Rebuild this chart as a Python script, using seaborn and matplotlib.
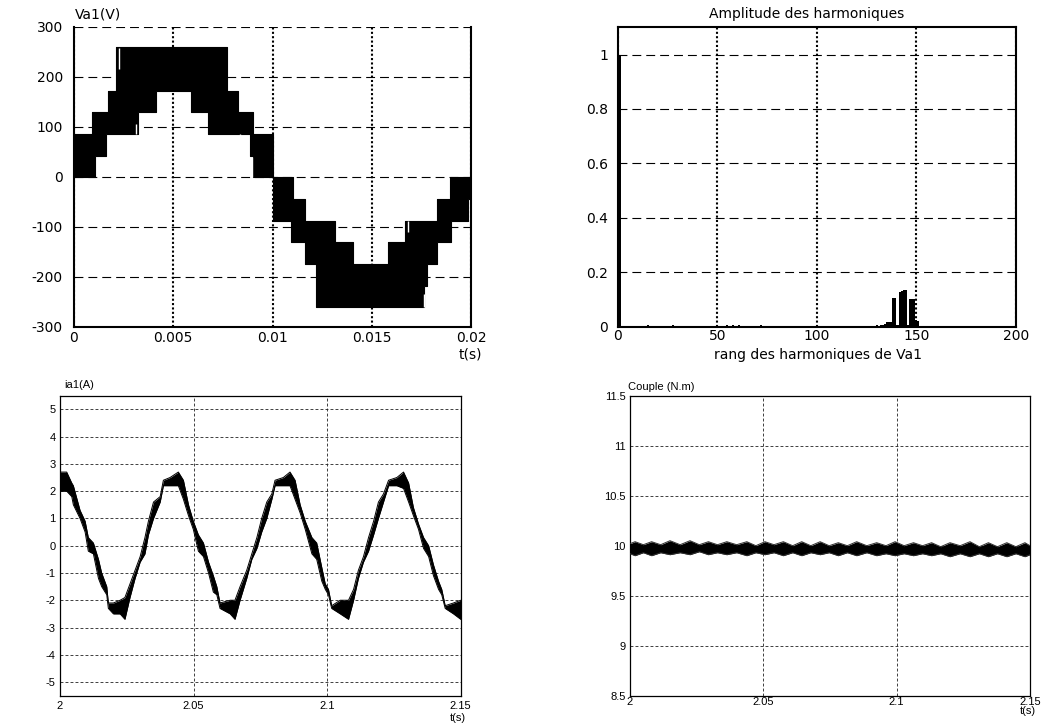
import numpy as np
import matplotlib
matplotlib.use("Agg")
import matplotlib.pyplot as plt
import seaborn as sns

# ---------------- data ----------------
# Va1 : multilevel PWM voltage, envelope of the switching band (step functions)
va_up_t = [0.0, 0.00089, 0.00173, 0.00212, 0.00773, 0.00828, 0.00903, 0.01000,
           0.01105, 0.01164, 0.01315, 0.01407, 0.01581, 0.01670, 0.01830, 0.01893]
va_up_v = [87, 130, 173, 260, 173, 130, 87, 0,
           -43, -87, -130, -173, -130, -87, -43, 0]
va_lo_t = [0.0, 0.00106, 0.00161, 0.00324, 0.00413, 0.00588, 0.00677, 0.00887,
           0.00900, 0.01000, 0.01093, 0.01166, 0.01220, 0.01765, 0.01780, 0.01827,
           0.01898, 0.01987]
va_lo_v = [0, 43, 87, 130, 173, 130, 87, 43,
           0, -87, -130, -173, -260, -217, -173, -130,
           -87, -43]
va_notch_t = [0.00225, 0.00311, 0.00836, 0.00896, 0.01681, 0.01765]
va_notch_lo = [217, 87, 44, 0, -109, -260]
va_notch_hi = [258, 107, 87, 40, -87, -234]

# harmonic spectrum of Va1
harm_rank = [1, 8, 15, 22, 28, 35, 41, 48, 55, 58, 61, 67, 72, 78, 83, 87, 92,
             105, 110, 115, 120, 125, 130, 132, 133, 134, 135, 136, 137, 138, 139,
             140, 141, 142, 143, 144, 145, 146, 147, 148, 149, 150, 151,
             155, 160, 165, 172, 180, 185, 190, 195]
harm_amp = [1.0, 0.003, 0.006, 0.003, 0.006, 0.003, 0.004, 0.003, 0.006, 0.005, 0.006,
            0.003, 0.006, 0.003, 0.004, 0.004, 0.003,
            0.003, 0.004, 0.004, 0.004, 0.003, 0.005, 0.008, 0.008, 0.009, 0.018,
            0.018, 0.018, 0.104, 0.106,
            0.008, 0.006, 0.128, 0.130, 0.134, 0.134, 0.006, 0.100, 0.102, 0.100,
            0.024, 0.020,
            0.004, 0.004, 0.003, 0.003, 0.004, 0.004, 0.003, 0.003]

# ia1 current : ripple band (lower / upper) read along time
ia_t = [2.0000, 2.0025, 2.0044, 2.0050, 2.0075, 2.0094, 2.0106, 2.0125, 2.0144, 2.0156,
        2.0175, 2.0181, 2.0200, 2.0225, 2.0243, 2.0262, 2.0281, 2.0300, 2.0318, 2.0331,
        2.0350, 2.0375, 2.0387, 2.0412, 2.0443, 2.0462, 2.0481, 2.0499, 2.0518, 2.0537,
        2.0556, 2.0574, 2.0587, 2.0599, 2.0637, 2.0655, 2.0674, 2.0699, 2.0718, 2.0737,
        2.0755, 2.0774, 2.0793, 2.0805, 2.0836, 2.0861, 2.0880, 2.0899, 2.0918, 2.0943,
        2.0961, 2.0980, 2.0993, 2.1005, 2.1017, 2.1049, 2.1080, 2.1099, 2.1117, 2.1136,
        2.1155, 2.1174, 2.1192, 2.1211, 2.1230, 2.1261, 2.1286, 2.1305, 2.1323, 2.1342,
        2.1361, 2.1380, 2.1398, 2.1417, 2.1429, 2.1442, 2.1473, 2.1500]
ia_lo = [2.0, 2.0, 1.8, 1.5, 1.0, 0.5, -0.2, -0.3, -1.2, -1.5,
         -1.8, -2.3, -2.5, -2.5, -2.7, -1.9, -1.2, -0.6, -0.3, 0.4,
         1.0, 1.6, 2.2, 2.2, 2.2, 1.7, 1.1, 0.6, -0.2, -0.4,
         -1.0, -1.7, -1.8, -2.3, -2.5, -2.7, -2.0, -1.2, -0.5, -0.1,
         0.5, 1.0, 1.7, 2.2, 2.2, 2.2, 1.7, 1.2, 0.6, -0.3,
         -0.5, -1.3, -1.6, -1.8, -2.3, -2.5, -2.7, -2.0, -1.2, -0.6,
         -0.2, 0.4, 1.0, 1.6, 2.2, 2.2, 2.1, 1.6, 1.1, 0.6,
         -0.1, -0.4, -1.1, -1.6, -1.8, -2.3, -2.5, -2.7]
ia_hi = [2.7, 2.7, 2.3, 2.2, 1.3, 0.9, 0.3, 0.1, -0.5, -1.0,
         -1.5, -2.1, -2.1, -2.0, -1.9, -1.4, -0.9, -0.4, 0.3, 0.9,
         1.6, 1.8, 2.4, 2.5, 2.7, 2.4, 1.5, 0.9, 0.4, 0.1,
         -0.6, -1.1, -1.5, -2.1, -2.0, -2.0, -1.5, -0.9, -0.3, 0.3,
         1.0, 1.6, 1.9, 2.4, 2.5, 2.7, 2.4, 1.5, 0.9, 0.3,
         0.1, -0.8, -1.4, -1.6, -2.2, -2.0, -2.0, -1.6, -0.9, -0.4,
         0.3, 0.9, 1.6, 1.9, 2.4, 2.5, 2.7, 2.3, 1.4, 0.8,
         0.3, 0.0, -0.7, -1.3, -1.6, -2.2, -2.1, -2.0]

# electromagnetic torque : ripple band
couple_t = [2.0000, 2.0019, 2.0050, 2.0081, 2.0115, 2.0150, 2.0188, 2.0225, 2.0260, 2.0294,
            2.0328, 2.0363, 2.0400, 2.0438, 2.0472, 2.0506, 2.0540, 2.0575, 2.0610, 2.0644,
            2.0678, 2.0713, 2.0747, 2.0781, 2.0815, 2.0850, 2.0888, 2.0925, 2.0960, 2.0994,
            2.1028, 2.1063, 2.1097, 2.1131, 2.1165, 2.1200, 2.1238, 2.1275, 2.1310, 2.1344,
            2.1378, 2.1413, 2.1447, 2.1481, 2.1500]
couple_hi = [10.02, 10.04, 10.01, 10.04, 10.01, 10.05, 10.01, 10.05, 10.01, 10.04,
             10.01, 10.04, 10.01, 10.04, 10.00, 10.04, 10.01, 10.04, 10.00, 10.04,
             10.00, 10.04, 10.00, 10.03, 10.00, 10.04, 10.00, 10.03, 10.00, 10.04,
             10.00, 10.03, 10.00, 10.03, 9.99, 10.03, 10.00, 10.04, 9.99, 10.03,
             9.99, 10.03, 9.99, 10.03, 10.00]
couple_lo = [9.92, 9.90, 9.93, 9.90, 9.93, 9.91, 9.93, 9.91, 9.94, 9.91,
             9.93, 9.91, 9.93, 9.90, 9.93, 9.91, 9.93, 9.90, 9.93, 9.90,
             9.93, 9.91, 9.93, 9.90, 9.93, 9.90, 9.93, 9.90, 9.92, 9.90,
             9.92, 9.90, 9.92, 9.90, 9.92, 9.89, 9.92, 9.89, 9.92, 9.89,
             9.92, 9.89, 9.92, 9.89, 9.91]

va_xticks = [0, 0.005, 0.01, 0.015, 0.02]
va_xticklabels = ["0", "0.005", "0.01", "0.015", "0.02"]
va_yticks = [-300, -200, -100, 0, 100, 200, 300]
harm_xticks = [0, 50, 100, 150, 200]
harm_yticks = [0, 0.2, 0.4, 0.6, 0.8, 1.0]
harm_yticklabels = ["0", "0.2", "0.4", "0.6", "0.8", "1"]
t_ticks = [2.0, 2.05, 2.1, 2.15]
t_ticklabels = ["2", "2.05", "2.1", "2.15"]
ia_yticks = [-5, -4, -3, -2, -1, 0, 1, 2, 3, 4, 5]
couple_yticks = [8.5, 9, 9.5, 10, 10.5, 11, 11.5]
couple_yticklabels = ["8.5", "9", "9.5", "10", "10.5", "11", "11.5"]

# ---------------- style ----------------
sns.set_theme(style="white")
plt.rcParams["font.family"] = ["DejaVu Sans"]
plt.rcParams["axes.unicode_minus"] = False

W, H = 1043, 726
fig = plt.figure(figsize=(W / 100, H / 100), dpi=100)
fig.patch.set_facecolor("white")


def rect(l, t, r, b):
    return [l / W, 1 - b / H, (r - l) / W, (b - t) / H]


def fx(x):
    return x / W


def fy(y):
    return 1 - y / H


BIG = dict(family=["DejaVu Sans"], size=10, color="black")
SMALL = dict(family=["Liberation Sans", "DejaVu Sans"], size=8, color="black")


def matlab_top(ax):
    ax.set_facecolor("white")
    for s in ax.spines.values():
        s.set_color("black")
        s.set_linewidth(1.5)
    ax.set_axisbelow(True)
    ax.xaxis.grid(True, color="black", linestyle=(0, (1, 1.1)), linewidth=1.5)
    ax.yaxis.grid(True, color="black", linestyle=(0, (8, 4.5)), linewidth=0.8)
    ax.tick_params(direction="in", length=3, width=1, colors="black")


def matlab_bottom(ax):
    ax.set_facecolor("white")
    for s in ax.spines.values():
        s.set_color("black")
        s.set_linewidth(0.9)
    ax.set_axisbelow(True)
    ax.grid(True, color="#202020", linestyle=(0, (3.5, 2.5)), linewidth=0.6)
    ax.tick_params(direction="in", length=3, width=0.8, colors="black")


def step_eval(bt, bv, x):
    idx = np.searchsorted(np.asarray(bt), x, side="right") - 1
    return np.asarray(bv, dtype=float)[idx]


# ---------------- Va1 (top-left) ----------------
ax1 = fig.add_axes(rect(74, 27, 471, 327))
matlab_top(ax1)
x_all = np.array(sorted(set(va_up_t) | set(va_lo_t) | {0.02}))
up = step_eval(va_up_t, va_up_v, x_all)
lo = step_eval(va_lo_t, va_lo_v, x_all)
ax1.fill_between(x_all, lo, up, step="post", color="black", linewidth=0, zorder=2)
sns.lineplot(x=x_all, y=up, drawstyle="steps-post", color="black", linewidth=0.8,
             ax=ax1, zorder=3, sort=False)
sns.lineplot(x=x_all, y=lo, drawstyle="steps-post", color="black", linewidth=0.8,
             ax=ax1, zorder=3, sort=False)
ax1.vlines(va_notch_t, va_notch_lo, va_notch_hi, color="white", linewidth=1.0, zorder=4)
ax1.set_xlim(0, 0.02)
ax1.set_ylim(-300, 300)
ax1.set_xticks(va_xticks)
ax1.set_xticklabels(va_xticklabels, fontdict=BIG)
ax1.set_yticks(va_yticks)
ax1.set_yticklabels([str(v) for v in va_yticks], fontdict=BIG)
ax1.tick_params(axis="y", pad=8)
ax1.tick_params(axis="x", pad=3)
ax1.spines["top"].set_visible(False)
ax1.set_xlabel("")
ax1.set_ylabel("")
fig.text(fx(75), fy(15), "Va1(V)", ha="left", va="center", **BIG)
fig.text(fx(482), fy(355), "t(s)", ha="right", va="center", **BIG)

# ---------------- harmonics (top-right) ----------------
ax2 = fig.add_axes(rect(617.7, 27.3, 1016, 326.7))
matlab_top(ax2)
ax2.bar(harm_rank, harm_amp, width=1.0, color="black", linewidth=0, zorder=2)
ax2.set_xlim(0, 200)
ax2.set_ylim(0, 1.1)
ax2.set_xticks(harm_xticks)
ax2.set_xticklabels([str(v) for v in harm_xticks], fontdict=BIG)
ax2.set_yticks(harm_yticks)
ax2.set_yticklabels(harm_yticklabels, fontdict=BIG)
ax2.tick_params(axis="y", pad=7)
ax2.tick_params(axis="x", pad=2)
fig.text(fx(807), fy(14), "Amplitude des harmoniques", ha="center", va="center", **BIG)
fig.text(fx(818), fy(355), "rang des harmoniques de Va1", ha="center", va="center", **BIG)

# ---------------- ia1 (bottom-left) ----------------
ax3 = fig.add_axes(rect(60, 395.7, 460.7, 695.7))
matlab_bottom(ax3)
ax3.fill_between(ia_t, ia_lo, ia_hi, color="black", linewidth=0, zorder=2)
sns.lineplot(x=ia_t, y=ia_hi, color="black", linewidth=0.7, ax=ax3, zorder=3, sort=False)
sns.lineplot(x=ia_t, y=ia_lo, color="black", linewidth=0.7, ax=ax3, zorder=3, sort=False)
ax3.set_xlim(2.0, 2.15)
ax3.set_ylim(-5.5, 5.5)
ax3.set_xticks(t_ticks)
ax3.set_xticklabels(t_ticklabels, fontdict=SMALL)
ax3.set_yticks(ia_yticks)
ax3.set_yticklabels([str(v) for v in ia_yticks], fontdict=SMALL)
ax3.tick_params(axis="y", pad=3)
ax3.tick_params(axis="x", pad=4)
ax3.set_xlabel("")
ax3.set_ylabel("")
fig.text(fx(64), fy(385), "ia1(A)", ha="left", va="center", **SMALL)
fig.text(fx(458), fy(718), "t(s)", ha="center", va="center", **SMALL)

# ---------------- couple (bottom-right) ----------------
ax4 = fig.add_axes(rect(630, 395.7, 1030, 695.7))
matlab_bottom(ax4)
ax4.fill_between(couple_t, couple_lo, couple_hi, color="black", linewidth=0, zorder=2)
sns.lineplot(x=couple_t, y=couple_hi, color="#303030", linewidth=0.7, ax=ax4, zorder=3, sort=False)
sns.lineplot(x=couple_t, y=couple_lo, color="#303030", linewidth=0.7, ax=ax4, zorder=3, sort=False)
ax4.set_xlim(2.0, 2.15)
ax4.set_ylim(8.5, 11.5)
ax4.set_xticks(t_ticks)
ax4.set_xticklabels(t_ticklabels, fontdict=SMALL)
ax4.set_yticks(couple_yticks)
ax4.set_yticklabels(couple_yticklabels, fontdict=SMALL)
ax4.tick_params(axis="y", pad=3)
ax4.tick_params(axis="x", pad=1)
ax4.set_xlabel("")
ax4.set_ylabel("")
fig.text(fx(628), fy(387), "Couple (N.m)", ha="left", va="center", **SMALL)
fig.text(fx(1028), fy(711), "t(s)", ha="center", va="center", **SMALL)

fig.savefig("out.png", dpi=100, facecolor="white")
